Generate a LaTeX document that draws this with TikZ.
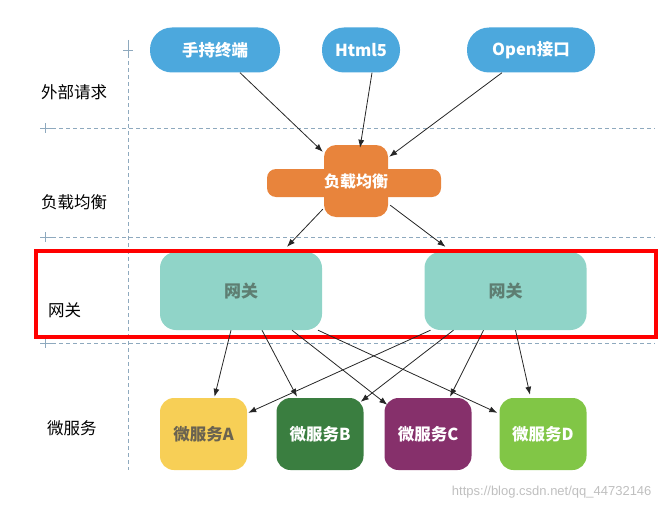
\documentclass[tikz,border=0pt]{standalone}
\usepackage{fontspec}
\setmainfont{Noto Sans CJK SC}
\newfontfamily\markfont{Liberation Sans}
\usetikzlibrary{arrows.meta}

\definecolor{reqblue}{HTML}{4CA8DD}
\definecolor{lborange}{HTML}{E8843C}
\definecolor{gwteal}{HTML}{90D4C8}
\definecolor{gwtext}{HTML}{5E7E72}
\definecolor{msyellow}{HTML}{F7CF56}
\definecolor{msgreen}{HTML}{3A7E40}
\definecolor{mspurple}{HTML}{86306B}
\definecolor{mslime}{HTML}{81C646}
\definecolor{mstext}{HTML}{6A6350}
\definecolor{lanegray}{HTML}{8EA9BE}

\newcommand{\LaneL}{45}
\newcommand{\LaneR}{655}
\newcommand{\AxisX}{128}

\begin{document}
\begin{tikzpicture}[x=1pt,y=-1pt,
	lane/.style={draw=lanegray,dash pattern=on 4pt off 3pt,semithick},
	tick/.style={draw=lanegray,semithick},
	lanelabel/.style={font=\fontsize{16.5}{19}\selectfont,anchor=west,inner sep=0pt},
	req/.style={fill=reqblue,text=white,rounded corners=22pt,minimum height=45pt,font=\bfseries\fontsize{16.5}{19}\selectfont},
	lbbox/.style={fill=lborange,text=white,rounded corners=12pt,minimum width=62pt,minimum height=72pt,inner sep=0pt,font=\bfseries\fontsize{16}{19}\selectfont},
	gw/.style={fill=gwteal,text=gwtext,rounded corners=16pt,minimum width=162pt,minimum height=78pt,font=\bfseries\fontsize{17}{20}\selectfont},
	ms/.style={text=white,rounded corners=14pt,minimum width=87pt,minimum height=72pt,inner sep=0pt,font=\bfseries\fontsize{16.5}{19}\selectfont},
	link/.style={-{Latex[length=8pt,width=6pt]},draw=black!85,line width=0.8pt}]

	\useasboundingbox (0,0) rectangle (661,511);

	%The lanes
	\draw[lane] (\AxisX,40) -- (\AxisX,470);
	\foreach \y in {128,237,343}{
		\draw[lane] (\LaneL,\y) -- (\LaneR,\y);
		\draw[tick] (\LaneL,\y-5) -- (\LaneL,\y+5) (\LaneL-5,\y) -- (\LaneL+8,\y);
	}
	\draw[tick] (\AxisX-5,50) -- (\AxisX+5,50) (\AxisX,44) -- (\AxisX,58);

	%The lane labels
	\node (lblReq) [lanelabel] at (41,92) {外部请求};
	\node (lblLb) [lanelabel] at (41,202) {负载均衡};
	\node (lblGw) [lanelabel] at (48,310) {网关};
	\node (lblMs) [lanelabel] at (47,428) {微服务};

	%The external requests
	\node (hand) [req,minimum width=130pt] at (215,50) {手持终端};
	\node (html) [req,minimum width=78pt] at (361,50) {Html5};
	\node (open) [req,minimum width=128pt] at (531,50) {Open接口};

	%The load balancer
	\fill[lborange,rounded corners=9pt] (267,169) rectangle (441,197);
	\node (lb) [lbbox] at (356,181) {负载均衡};

	%The gateways
	\node (gwL) [gw] at (241,291) {网关};
	\node (gwR) [gw] at (505.5,291) {网关};
	\draw[red,line width=4pt] (36,251) rectangle (656,337);

	%The micro services
	\node (msA) [ms,fill=msyellow,text=mstext] at (203.5,434) {微服务A};
	\node (msB) [ms,fill=msgreen] at (320,434) {微服务B};
	\node (msC) [ms,fill=mspurple] at (428,434) {微服务C};
	\node (msD) [ms,fill=mslime] at (543,434) {微服务D};

	%Requests into the load balancer
	\draw[link] ([xshift=25pt]hand.south) -- ([xshift=-1pt,yshift=-7pt]lb.north west);
	\draw[link] ([xshift=11pt]html.south) -- ([xshift=4pt,yshift=-3pt]lb.north);
	\draw[link] ([xshift=-29pt]open.south) -- ([xshift=1pt,yshift=-12pt]lb.north east);

	%Load balancer to the gateways
	\draw[link] ([xshift=-1pt,yshift=8pt]lb.south west) -- ([xshift=46pt,yshift=5pt]gwL.north);
	\draw[link] ([xshift=2pt,yshift=12pt]lb.south east) -- ([xshift=-60pt,yshift=5pt]gwR.north);

	%Gateways to the micro services
	\draw[link] ([xshift=-10pt]gwL.south) -- ([xshift=11pt,yshift=1pt]msA.north);
	\draw[link] ([xshift=21pt]gwL.south) -- ([xshift=-23pt,yshift=1pt]msB.north);
	\draw[link] ([xshift=51pt]gwL.south) -- ([xshift=3pt,yshift=-7pt]msC.north west);
	\draw[link] ([xshift=77pt]gwL.south) -- ([xshift=-2pt,yshift=-15pt]msD.north west);
	\draw[link] ([xshift=-75pt]gwR.south) -- ([xshift=1pt,yshift=-15pt]msA.north east);
	\draw[link] ([xshift=-52pt]gwR.south) -- ([xshift=-3pt,yshift=-4pt]msB.north east);
	\draw[link] ([xshift=-22pt]gwR.south) -- ([xshift=22pt,yshift=1pt]msC.north);
	\draw[link] ([xshift=10pt]gwR.south) -- ([xshift=-13pt,yshift=3pt]msD.north);

	%Watermark
	\node (mark) [anchor=east,text=black!25,font=\markfont\fontsize{13}{15}\selectfont] at (655,492) {https://blog.csdn.net/qq\_44732146};

\end{tikzpicture}
\end{document}
